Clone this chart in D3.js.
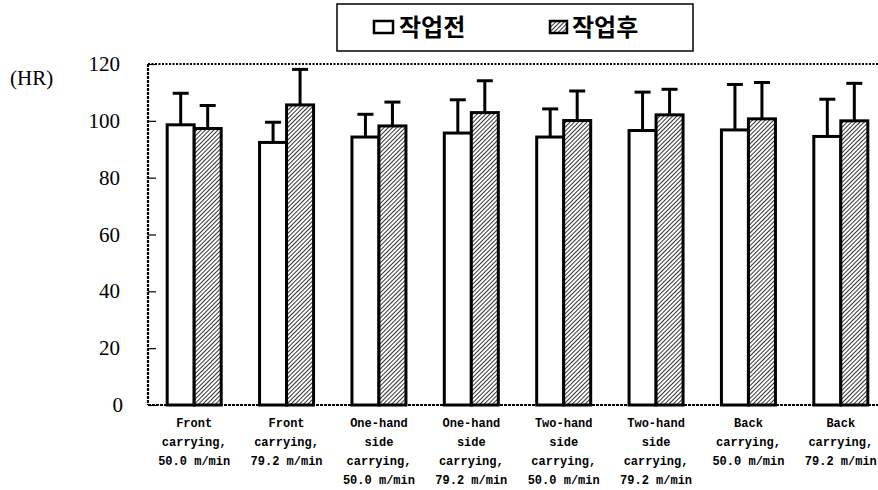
<!DOCTYPE html>
<html>
<head>
<meta charset="utf-8">
<script src="https://cdn.jsdelivr.net/npm/d3@7"></script>
<style>
  body { margin: 0; background: #fff; }
  svg { display: block; }
</style>
</head>
<body>
<div id="chart"></div>
<script>
// data
const categories = [
    ["Front", "carrying,", "50.0 m/min"],
    ["Front", "carrying,", "79.2 m/min"],
    ["One-hand", "side", "carrying,", "50.0 m/min"],
    ["One-hand", "side", "carrying,", "79.2 m/min"],
    ["Two-hand", "side", "carrying,", "50.0 m/min"],
    ["Two-hand", "side", "carrying,", "79.2 m/min"],
    ["Back", "carrying,", "50.0 m/min"],
    ["Back", "carrying,", "79.2 m/min"]
];
const seriesNames = ["작업전", "작업후"];
const beforeMean = [98.6, 92.4, 94.3, 95.7, 94.3, 96.6, 96.8, 94.5];
const beforeSD   = [11.1, 7.1, 8.0, 11.7, 9.9, 13.5, 16.0, 13.1];
const afterMean  = [97.3, 105.6, 98.2, 102.9, 100.1, 102.1, 100.7, 100.0];
const afterSD    = [8.1, 12.5, 8.4, 11.2, 10.4, 9.0, 12.8, 13.2];
const yTicks = [0, 20, 40, 60, 80, 100, 120];

const W = 878, H = 490;
const plotLeft = 148, plotRight = 887, plotTop = 64, plotBottom = 405;

const svg = d3.select("#chart").append("svg")
    .attr("width", W)
    .attr("height", H);

const defs = svg.append("defs");
const pat = defs.append("pattern")
    .attr("id", "hatch")
    .attr("patternUnits", "userSpaceOnUse")
    .attr("width", 3)
    .attr("height", 3)
    .attr("patternTransform", "rotate(45)");
pat.append("rect").attr("width", 3).attr("height", 3).attr("fill", "#fff");
pat.append("line")
    .attr("x1", 0).attr("y1", 0).attr("x2", 0).attr("y2", 3)
    .attr("stroke", "#000").attr("stroke-width", 1.6);

const x0 = d3.scaleBand()
    .domain(d3.range(categories.length))
    .range([plotLeft, plotRight]);
const x1 = d3.scaleBand()
    .domain(seriesNames)
    .range([x0.bandwidth() / 2 - 27, x0.bandwidth() / 2 + 27]);
const y = d3.scaleLinear().domain([0, 120]).range([plotBottom, plotTop]);

// frame: dotted top, left and bottom
svg.append("line")
    .attr("x1", plotLeft).attr("x2", W).attr("y1", plotTop).attr("y2", plotTop)
    .attr("stroke", "#000").attr("stroke-width", 2).attr("stroke-dasharray", "2,1.5");
svg.append("line")
    .attr("x1", plotLeft).attr("x2", plotLeft).attr("y1", plotTop).attr("y2", plotBottom)
    .attr("stroke", "#000").attr("stroke-width", 2.2).attr("stroke-dasharray", "3,1");
svg.append("line")
    .attr("x1", plotLeft).attr("x2", W).attr("y1", plotBottom).attr("y2", plotBottom)
    .attr("stroke", "#000").attr("stroke-width", 2.2).attr("stroke-dasharray", "3,1");

// y axis ticks (inward) and labels
const yAxis = d3.axisRight(y).tickValues(yTicks).tickSize(8).tickFormat("");
svg.append("g")
    .attr("transform", `translate(${plotLeft},0)`)
    .call(yAxis)
    .call(g => g.select(".domain").remove())
    .call(g => g.selectAll(".tick line").attr("stroke", "#000").attr("stroke-width", 1.2));

svg.append("g").selectAll("text")
    .data(yTicks)
    .join("text")
    .attr("x", d => d === 0 ? 123 : 120)
    .attr("y", d => y(d) + 7)
    .attr("text-anchor", "end")
    .attr("font-family", "Liberation Serif, serif")
    .attr("font-size", 21)
    .attr("fill", "#000")
    .text(d => d);

svg.append("text")
    .attr("x", 10).attr("y", 85)
    .attr("font-family", "Liberation Serif, serif")
    .attr("font-size", 21)
    .attr("fill", "#000")
    .text("(HR)");

// bars
const rows = categories.map((c, i) => ({
    i,
    vals: [
        { s: seriesNames[0], m: beforeMean[i], sd: beforeSD[i] },
        { s: seriesNames[1], m: afterMean[i], sd: afterSD[i] }
    ]
}));

const groups = svg.append("g").selectAll("g")
    .data(rows)
    .join("g")
    .attr("transform", d => `translate(${x0(d.i)},0)`);

// error bars first so bars cover the stems
groups.selectAll("line.err")
    .data(d => d.vals)
    .join("line")
    .attr("class", "err")
    .attr("x1", d => x1(d.s) + x1.bandwidth() / 2)
    .attr("x2", d => x1(d.s) + x1.bandwidth() / 2)
    .attr("y1", d => y(d.m))
    .attr("y2", d => y(d.m + d.sd))
    .attr("stroke", "#000").attr("stroke-width", 3);
groups.selectAll("line.cap")
    .data(d => d.vals)
    .join("line")
    .attr("class", "cap")
    .attr("x1", d => x1(d.s) + x1.bandwidth() / 2 - 8)
    .attr("x2", d => x1(d.s) + x1.bandwidth() / 2 + 8)
    .attr("y1", d => y(d.m + d.sd))
    .attr("y2", d => y(d.m + d.sd))
    .attr("stroke", "#000").attr("stroke-width", 3);

groups.selectAll("rect")
    .data(d => d.vals)
    .join("rect")
    .attr("x", d => x1(d.s))
    .attr("y", d => y(d.m))
    .attr("width", x1.bandwidth())
    .attr("height", d => y(0) - y(d.m))
    .attr("fill", d => d.s === seriesNames[0] ? "#fff" : "url(#hatch)")
    .attr("stroke", "#000")
    .attr("stroke-width", 3);

// category labels
groups.append("text")
    .attr("text-anchor", "middle")
    .attr("font-family", "Liberation Mono, monospace")
    .attr("font-weight", "bold")
    .attr("font-size", 12)
    .attr("fill", "#000")
    .selectAll("tspan")
    .data(d => categories[d.i])
    .join("tspan")
    .attr("x", x0.bandwidth() / 2)
    .attr("y", (d, k) => 427 + k * 19)
    .text(d => d);

// legend
const lg = svg.append("g");
lg.append("rect")
    .attr("x", 337).attr("y", 4).attr("width", 356).attr("height", 47)
    .attr("fill", "#fff").attr("stroke", "#000").attr("stroke-width", 1.5);
const legendX = [374, 550];
seriesNames.forEach((s, k) => {
    lg.append("rect")
        .attr("x", legendX[k]).attr("y", 21)
        .attr("width", k === 0 ? 19 : 17).attr("height", 12)
        .attr("fill", k === 0 ? "#fff" : "url(#hatch)")
        .attr("stroke", "#000").attr("stroke-width", 2.5);
    lg.append("text")
        .attr("x", legendX[k] + (k === 0 ? 25 : 22)).attr("y", 36)
        .attr("font-family", "Noto Sans CJK KR, sans-serif")
        .attr("font-weight", "bold")
        .attr("font-size", 24)
        .attr("fill", "#000")
        .text(s);
});
</script>
</body>
</html>
